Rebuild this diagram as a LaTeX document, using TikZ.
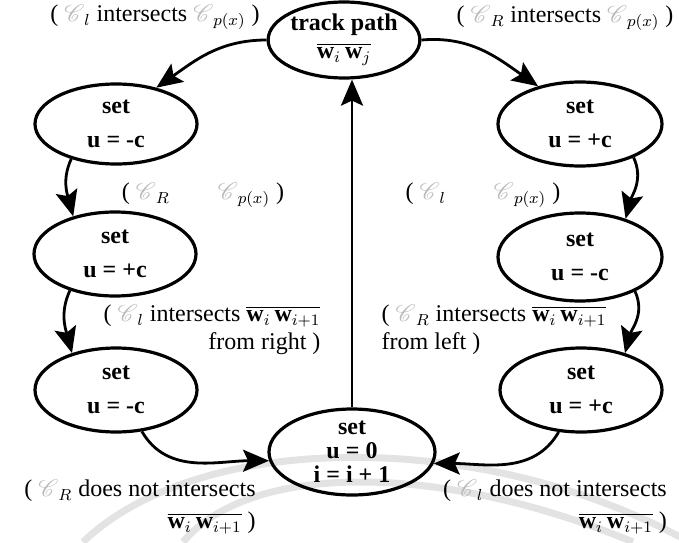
\documentclass[tikz,border=0pt]{standalone}
\usepackage{amsmath,amssymb}
\usepackage{mathrsfs}
\usepackage{fontspec}
\setmainfont{Liberation Serif}
\usepackage{tikz}
\usetikzlibrary{arrows.meta,shapes.geometric}

\newcommand{\crv}[1]{$\textcolor{gray!55}{\mathscr{C}}_{#1}$}
\newcommand{\seg}{$\overline{\mathbf{w}_i\,\mathbf{w}_{i+1}}$}

\tikzset{
  state/.style={ellipse, draw, line width=1.6pt, minimum width=81pt, minimum height=40pt,
    inner xsep=0pt, inner ysep=-4pt, align=center, font=\fontsize{12}{14}\selectfont\bfseries},
  trans/.style={-{Stealth[length=13pt,width=11pt,inset=2.5pt]}, line width=1.4pt},
  cond/.style={inner sep=0pt}
}

\begin{document}
\begin{tikzpicture}[x=0.5pt, y=0.5pt, font=\fontsize{12}{14}\selectfont]
  \useasboundingbox (0,0) rectangle (679,542);

  % faint bands behind the chart
  \draw[gray!22, line width=3.5pt] (83,0) .. controls (200,112) and (480,112) .. (680,5);
  \draw[gray!22, line width=3.5pt] (183,0) .. controls (250,80) and (440,80) .. (633,0);

  % --- states ---
  \node[state, minimum width=75pt, minimum height=38pt] (track) at (344,502) {track path\\[0pt] $\overline{\mathbf{w}_i\,\mathbf{w}_j}$};
  \node[state] (leftA)  at (116,418) {set\\[3pt] u = -c};
  \node[state, minimum height=42pt] (leftB)  at (115,288) {set\\[3pt] u = +c};
  \node[state, minimum height=42pt] (leftC)  at (116,152) {set\\[3pt] u = -c};
  \node[state, minimum width=82pt, minimum height=42pt] (rightA) at (580,418) {set\\[3pt] u = +c};
  \node[state, minimum width=82pt, minimum height=44pt] (rightB) at (580,285) {set\\[3pt] u = -c};
  \node[state, minimum width=81pt, minimum height=42pt] (rightC) at (581,152) {set\\[3pt] u = +c};
  \node[state, minimum width=83pt, minimum height=43pt, inner ysep=-8pt] (reset) at (352,90)
    {set\\[-2pt] u = 0\\[-2pt] i = i + 1};

  % --- transitions ---
  \draw[trans] (track.west) to[out=180, in=35] (leftA.42);
  \draw[trans] (track.east) to[out=5, in=145] (rightA.138);
  \draw[trans] (leftA.218) to[out=245, in=105] (leftB.138);
  \draw[trans] (rightA.-32) to[out=-65, in=75] (rightB.40);
  \draw[trans] (leftB.219) to[out=245, in=105] (leftC.140);
  \draw[trans] (rightB.-32) to[out=-65, in=75] (rightC.40);
  \draw[trans] (leftC.-58) to[out=-60, in=180] (reset.186);
  \draw[trans] (rightC.-118) to[out=240, in=0] (reset.-8);
  \draw[trans] (reset.north) -- (reset.north |- track.south);

  % --- conditions ---
  \node[cond] (condLA) at (155,525) {( \crv{l} intersects \crv{p(x)} )};
  \node[cond] (condRA) at (565,524) {( \crv{R} intersects \crv{p(x)} )};
  \node[cond] (condLB) at (203,347) {( \crv{R}\hspace{2em}\crv{p(x)} )};
  \node[cond] (condRB) at (483,347) {( \crv{l}\hspace{2em}\crv{p(x)} )};
  \node[cond, align=right] (condLC) at (212,212) {( \crv{l} intersects \seg\\ from right )};
  \node[cond, align=left] (condRC) at (494,212) {( \crv{R} intersects \seg\\ from left )};
  \node[cond, align=right] (condLD) at (140,35) {( \crv{R} does not intersects\\[2pt] \seg\ )};
  \node[cond, align=right] (condRD) at (555,35) {( \crv{l} does not intersects\\[2pt] \seg\ )};
\end{tikzpicture}
\end{document}
